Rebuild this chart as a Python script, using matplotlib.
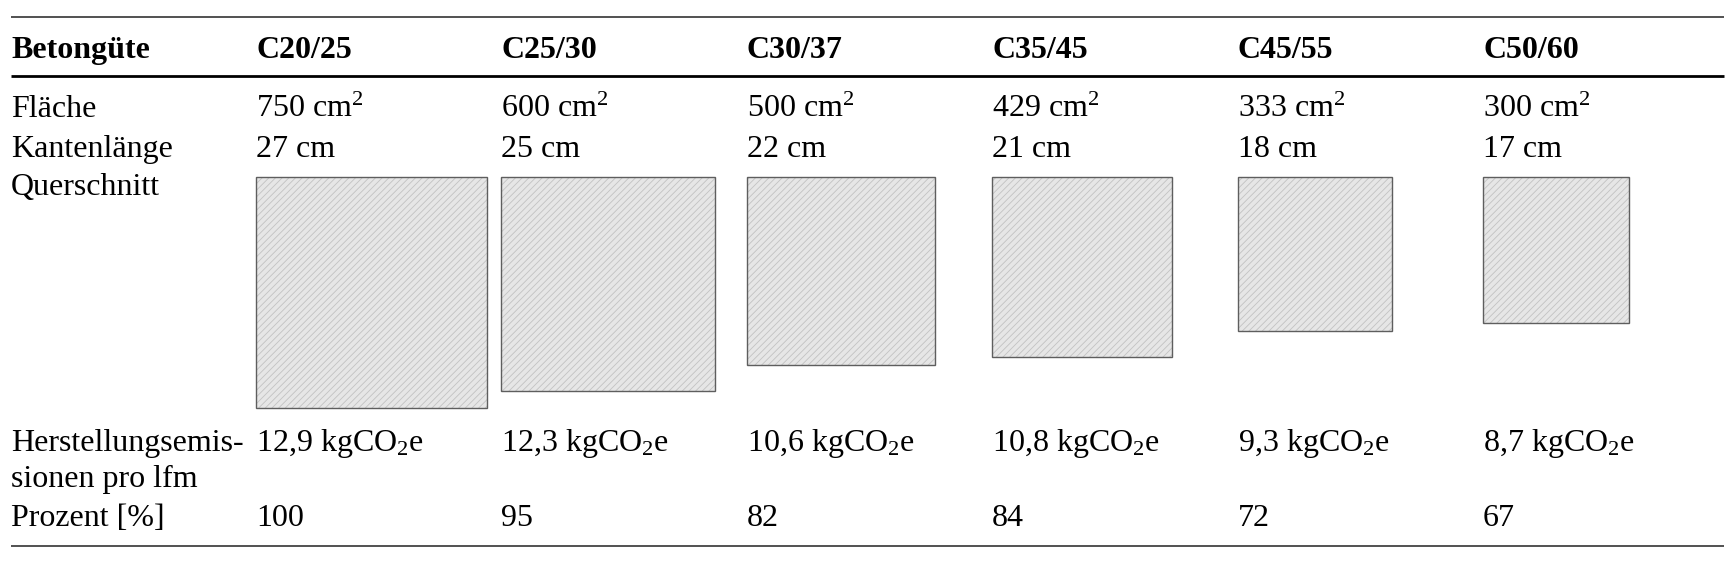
import matplotlib
matplotlib.use("Agg")
import matplotlib.pyplot as plt
from matplotlib.patches import Rectangle

# ---- data ----
row_header = "Betongüte"
grades = ["C20/25", "C25/30", "C30/37", "C35/45", "C45/55", "C50/60"]
areas_cm2 = [750, 600, 500, 429, 333, 300]
edge_cm = [27, 25, 22, 21, 18, 17]
emissions = [12.9, 12.3, 10.6, 10.8, 9.3, 8.7]
percent = [100, 95, 82, 84, 72, 67]
row_labels = ["Fläche", "Kantenlänge", "Querschnitt",
              "Herstellungsemis-", "sionen pro lfm", "Prozent [%]"]

# ---- style ----
plt.rcParams["font.family"] = ["Liberation Serif", "DejaVu Serif"]
plt.rcParams["mathtext.fontset"] = "custom"
plt.rcParams["mathtext.rm"] = "Liberation Serif"
plt.rcParams["mathtext.it"] = "Liberation Serif:italic"
plt.rcParams["mathtext.bf"] = "Liberation Serif:bold"
plt.rcParams["hatch.linewidth"] = 0.6

W, H = 1735, 570
fig = plt.figure(figsize=(W / 100, H / 100), dpi=100)
ax = fig.add_axes([0, 0, 1, 1])
ax.set_xlim(0, W)
ax.set_ylim(H, 0)
ax.axis("off")

fs = 23
x_label = 11
x0, dx = 256, 245.4
col_x = [x0 + i * dx for i in range(len(grades))]

y_top_rule, y_mid_rule, y_bot_rule = 16.5, 76, 546
y_head = 58
y_area = 117
y_edge = 157
y_quer = 195
box_top = 177
px_per_cm = 8.56
y_emis = 451
y_emis2 = 487
y_pct = 526

# rules
ax.plot([11, 1724], [y_top_rule, y_top_rule], color="#333333", lw=1.2, solid_capstyle="butt")
ax.plot([11, 1724], [y_mid_rule, y_mid_rule], color="black", lw=2.0, solid_capstyle="butt")
ax.plot([11, 1724], [y_bot_rule, y_bot_rule], color="#333333", lw=1.2, solid_capstyle="butt")

# header
ax.text(x_label, y_head, row_header, fontsize=fs, fontweight="bold", va="baseline", ha="left")
for x, g in zip(col_x, grades):
    ax.text(x, y_head, g, fontsize=fs, fontweight="bold", va="baseline", ha="left")

# row labels
for lab, y in zip(row_labels, [y_area, y_edge, y_quer, y_emis, y_emis2, y_pct]):
    ax.text(x_label, y, lab, fontsize=fs, va="baseline")

for x, a, e, em, p in zip(col_x, areas_cm2, edge_cm, emissions, percent):
    ax.text(x, y_area, f"{a} cm$^\\mathrm{{2}}$", fontsize=fs, va="baseline")
    ax.text(x, y_edge, f"{e} cm", fontsize=fs, va="baseline")
    s = e * px_per_cm
    ax.add_patch(Rectangle((x, box_top), s, s, facecolor="#e6e6e6",
                           edgecolor="#c2c2c2", hatch="/////", lw=0))
    ax.add_patch(Rectangle((x, box_top), s, s, facecolor="none",
                           edgecolor="#5e5e5e", lw=1.0))
    em_s = f"{em:.1f}".replace(".", ",")
    ax.text(x, y_emis, f"{em_s} kgCO$_\\mathrm{{2}}$e", fontsize=fs, va="baseline")
    ax.text(x, y_pct, f"{p}", fontsize=fs, va="baseline")

fig.savefig("out.png", dpi=100, facecolor="white")
